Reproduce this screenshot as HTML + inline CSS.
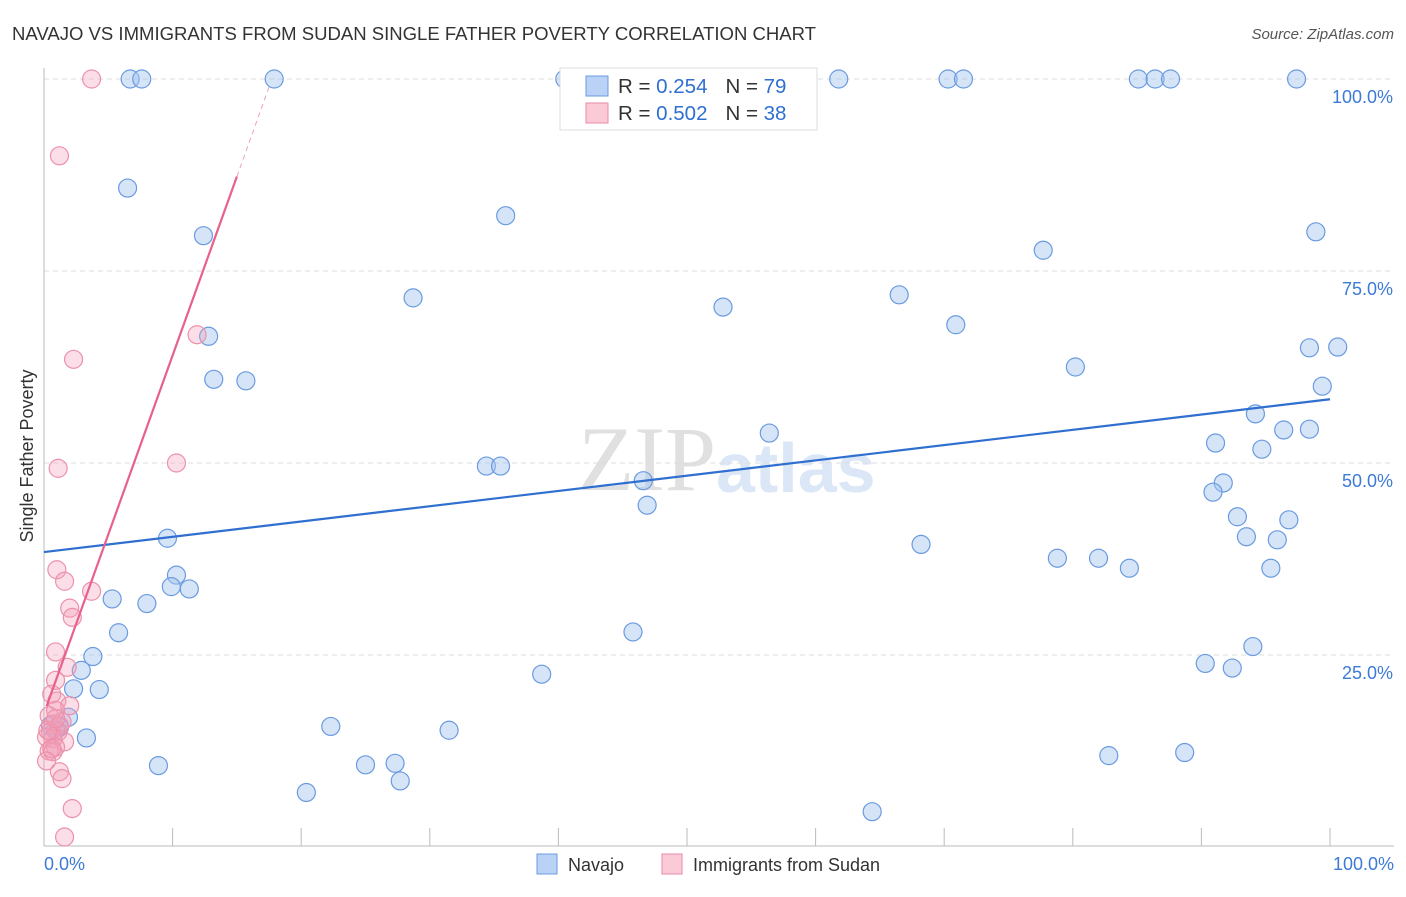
<!DOCTYPE html>
<html><head><meta charset="utf-8"><style>
body{margin:0;background:#fff;font-family:"Liberation Sans",sans-serif;}
</style></head><body>
<svg width="1406" height="892" xmlns="http://www.w3.org/2000/svg" id="svg" font-family="Liberation Sans, sans-serif">
<text x="12" y="40" font-size="18" fill="#333" textLength="804" lengthAdjust="spacingAndGlyphs">NAVAJO VS IMMIGRANTS FROM SUDAN SINGLE FATHER POVERTY CORRELATION CHART</text>
<text x="1394" y="39" font-size="15" fill="#555" font-style="italic" text-anchor="end">Source: ZipAtlas.com</text>
<text x="33" y="456" font-size="18" fill="#333" text-anchor="middle" transform="rotate(-90 33 456)">Single Father Poverty</text>
<text x="716" y="490" font-size="92" fill="#e0e0e0" text-anchor="end" font-family="Liberation Serif, serif">ZIP</text>
<text x="716" y="492" font-size="70" fill="#dbe7f6" font-weight="bold">atlas</text>
<g id="grid"></g><g id="pts"></g><g id="lines"></g>
<g>
<rect x="560" y="68" width="257" height="62" fill="#fff" stroke="#ddd"/>
<rect x="586" y="76" width="22" height="20" fill="#b9d2f5" stroke="#6a9be0"/>
<rect x="586" y="103" width="22" height="20" fill="#fbcad7" stroke="#e98aa6"/>
<text x="618" y="93" font-size="20.5" fill="#333">R = <tspan fill="#2f6fd0">0.254</tspan><tspan dx="18">N = </tspan><tspan fill="#2f6fd0">79</tspan></text>
<text x="618" y="120" font-size="20.5" fill="#333">R = <tspan fill="#2f6fd0">0.502</tspan><tspan dx="18">N = </tspan><tspan fill="#2f6fd0">38</tspan></text>
</g>
<g>
<rect x="537" y="854" width="20" height="20" fill="#b9d2f5" stroke="#6a9be0"/>
<text x="568" y="871" font-size="18" fill="#333">Navajo</text>
<rect x="662" y="854" width="20" height="20" fill="#fbcad7" stroke="#e98aa6"/>
<text x="693" y="871" font-size="18" fill="#333">Immigrants from Sudan</text>
</g>
</svg>
<script>
const navajoX=[6.7,7.6,17.9,40.5,61.8,70.3,71.5,85.1,86.4,87.6,97.4,6.5,35.9,12.4,98.9,77.7,28.7,52.8,66.5,70.9,12.8,98.4,100.6,80.2,13.2,15.7,99.4,56.4,94.2,91.1,96.4,98.4,94.7,34.4,35.5,46.6,91.7,90.9,46.9,92.8,96.8,9.6,68.2,93.5,95.9,78.8,82.0,84.4,95.4,10.3,9.9,11.3,5.3,8.0,5.8,45.8,3.8,2.9,38.7,2.3,4.3,90.3,92.4,94.0,1.9,22.3,31.5,1.2,0.9,3.3,82.8,88.7,8.9,25.0,27.3,27.7,20.4,64.4,0.5];
const navajoY=[100,100,100,100,100,100,100,100,100,100,100,85.8,82.2,79.6,80.1,77.7,71.5,70.3,71.9,68.0,66.5,65.0,65.1,62.5,60.9,60.7,60.0,53.9,56.4,52.6,54.3,54.4,51.8,49.6,49.6,47.7,47.4,46.2,44.5,43.0,42.6,40.2,39.4,40.4,40.0,37.6,37.6,36.3,36.3,35.4,33.9,33.6,32.3,31.7,27.9,28.0,24.8,23.0,22.5,20.6,20.5,23.9,23.3,26.1,16.9,15.7,15.2,15.6,15.2,14.2,11.9,12.3,10.6,10.7,10.9,8.6,7.1,4.6,15.8];
const sudanX=[3.7,1.2,2.3,11.9,10.3,1.1,1.0,1.6,3.7,2.0,2.2,0.9,1.8,0.9,0.6,1.0,2.0,0.4,0.9,0.7,1.2,0.5,1.1,0.2,1.6,0.7,0.9,0.4,0.7,1.2,1.4,2.2,1.6,0.3,1.4,0.9,0.6,0.2];
const sudanY=[100,90,63.5,66.7,50,49.3,36.1,34.6,33.3,31.1,29.9,25.4,23.4,21.7,19.9,19.0,18.4,17.1,17.8,16.0,15.8,15.0,15.0,14.3,13.7,14.1,13.0,12.5,12.4,9.8,8.9,5.0,1.3,15.2,16.3,16.7,12.8,11.2];
const navajoTrend=[38.4,58.3];
const sudanTrend=[17.4,4.66];
const yTicks=[25,50,75,100];
const xTickLabels=["0.0%","100.0%"];
const xs=v=>44+v*12.86, ys=v=>847-v*7.68;
const NS="http://www.w3.org/2000/svg";
const g=document.getElementById('grid'),P=document.getElementById('pts'),L=document.getElementById('lines');
function mk(t,a,par){const e=document.createElementNS(NS,t);for(const k in a)e.setAttribute(k,a[k]);par.appendChild(e);return e;}
yTicks.forEach(t=>{
 const l=mk('line',{x1:44,x2:1394,y1:ys(t),y2:ys(t),stroke:'#ddd','stroke-dasharray':'5,4'},g);
 
 
 const tx=mk('text',{x:1393,y:ys(t)+24,'font-size':18,fill:'#3d7ad6','text-anchor':'end'},g);tx.textContent=t.toFixed(1)+'%';
 
 
});
let ax=mk('line',{x1:44,x2:44,y1:68,y2:846,stroke:'#bbb'},g);


ax=mk('line',{x1:44,x2:1394,y1:846,y2:846,stroke:'#bbb'},g);


for(let i=1;i<=10;i++){const t=mk('line',{x1:xs(i*10),x2:xs(i*10),y1:828,y2:846,stroke:'#bbb'},g);
 
 }
let t0=mk('text',{x:44,y:870,'font-size':18,fill:'#3d7ad6'},g);t0.textContent=xTickLabels[0];


t0=mk('text',{x:1394,y:870,'font-size':18,fill:'#3d7ad6','text-anchor':'end'},g);t0.textContent=xTickLabels[1];


navajoX.forEach((x,i)=>{const c=mk('circle',{cx:xs(x),cy:ys(navajoY[i]),r:9,fill:'rgba(164,196,240,0.45)',stroke:'#6a9be0','stroke-width':1.2},P);
 
 });
sudanX.forEach((x,i)=>{const c=mk('circle',{cx:xs(x),cy:ys(sudanY[i]),r:9,fill:'rgba(244,160,185,0.35)',stroke:'#ec91ab','stroke-width':1.2},P);
 
 });
let tl=mk('line',{x1:xs(0),y1:ys(navajoTrend[0]),x2:xs(100),y2:ys(navajoTrend[1]),stroke:'#2f6fd0','stroke-width':2.2},L);


const sy=x=>sudanTrend[0]+sudanTrend[1]*x;
tl=mk('line',{x1:xs(0.2),y1:ys(sy(0.2)),x2:xs(15),y2:ys(sy(15)),stroke:'#e8608b','stroke-width':2.2},L);


tl=mk('line',{x1:xs(15),y1:ys(sy(15)),x2:xs(17.6),y2:ys(sy(17.6)),stroke:'#f0a0b8','stroke-width':1,'stroke-dasharray':'5,4'},L);


</script>
</body></html>
